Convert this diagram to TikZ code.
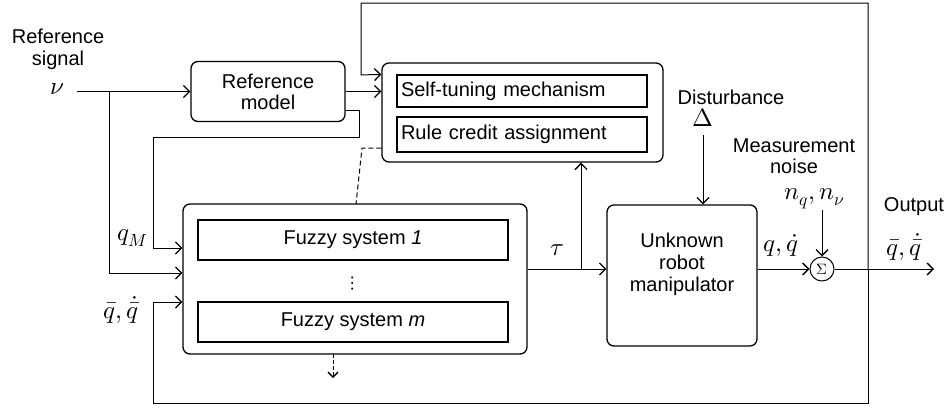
\documentclass[tikz,border=0pt]{standalone}
\usepackage{fontspec}
\usepackage{unicode-math}
\setmainfont{Liberation Sans}
\setmathfont{Latin Modern Math}
\usetikzlibrary{arrows.meta,calc}
\begin{document}
\begin{tikzpicture}[x=1pt,y=-1pt,
  every node/.style={font=\fontsize{20}{23}\selectfont, inner sep=0pt},
  bigbox/.style={draw, line width=1.3pt, rounded corners=7pt},
  inbox/.style={draw, line width=1.3pt},
  conn/.style={line width=1pt, -{Straight Barb[length=6pt,width=12pt,line width=1.3pt]}},
  plain/.style={line width=1pt},
  lbl/.style={font=\fontsize{25}{27}\selectfont}
]
\useasboundingbox (0,0) rectangle (950,408);

% blocks
\node[bigbox, minimum width=154pt, minimum height=60pt, align=center] (refm) at (268,91.5) {Reference\\[-2pt]model};
\node[bigbox, minimum width=281pt, minimum height=99pt] (stout) at (522.5,112.5) {};
\node[inbox, minimum width=250pt, minimum height=32pt, text width=242pt, align=left] (st1) at (522,91) {Self-tuning mechanism};
\node[inbox, minimum width=250pt, minimum height=35pt, text width=242pt, align=left] (st2) at (522,134.5) {Rule credit assignment};
\node[bigbox, minimum width=344pt, minimum height=150pt] (fzout) at (355,279) {};
\node[inbox, minimum width=310pt, minimum height=40pt] (fz1) at (353,240) {Fuzzy system \textit{1}};
\node[inbox, minimum width=310pt, minimum height=40pt] (fzm) at (353,322) {Fuzzy system \textit{m}};
\node (dots) at (353,283) {$\vdots$};
\node[bigbox, minimum width=150pt, minimum height=141pt, align=center] (robot) at (682,275.5) {Unknown\\[-1pt]robot\\[-1pt]manipulator\\[4pt]};
\node[draw, circle, line width=1pt, minimum size=24pt, font=\fontsize{15}{16}\selectfont] (sigma) at (822,269) {$\Sigma$};

% labels
\node[align=center] (refsig) at (58,49) {Reference\\[-1pt]signal};
\node[lbl] (nu) at (57,89) {$\nu$};
\node (dist) at (731,97) {Disturbance};
\node[lbl] (delta) at (703,118) {$\Delta$};
\node[align=center] (meas) at (794,156) {Measurement\\[-2pt]noise};
\node[lbl] (noise) at (815,199) {$n_q,n_\nu$};
\node (outlbl) at (914,207) {Output};
\node[lbl] (qout) at (904,247) {$\bar q,\dot{\bar q}$};
\node[lbl] (qrob) at (781,245) {$q,\dot q$};
\node[lbl] (tau) at (557,250) {$\tau$};
\node[lbl] (qm) at (133,238) {$q_M$};
\node[lbl] (qfb) at (121,310) {$\bar q,\dot{\bar q}$};

% coordinates
\coordinate (vin) at (77,91.5);
\coordinate (j1) at (109,91.5);
\coordinate (jo) at (868,269);
\coordinate (jt) at (581,269);
\coordinate (out) at (934,269);

% connectors
\draw[conn] (vin) -- (refm.west);
\draw[plain] (j1) |- ($(fzout.west)+(0,-6)$);
\draw[conn] ($(j1 |- fzout.west)+(0,-6)$) -- ($(fzout.west)+(0,-6)$);
\draw[conn] (refm.east) -- (refm.east -| stout.west);
\draw[conn] ($(refm.east)+(0,18.5)$) -| (359,137) -| (153,248) -- ($(fzout.west)+(0,-31)$);
\draw[conn] (jo) -- (868,3) -| (361,75) -- (stout.west |- st1.north);
\draw[conn] (jo) -- (868,403) -| (153,302) -- ($(fzout.west)+(0,23)$);
\draw[conn] (sigma.east) -- (out);
\draw[conn] (robot.east |- sigma) -- (sigma.west);
\draw[conn] (noise.south -| sigma) -- (sigma.north);
\draw[conn] (delta.south) ++(0,8) -- (robot.north -| delta);
\draw[conn] (fzout.east |- sigma) -- (robot.west |- sigma);
\draw[conn] (jt) -- (stout.south -| jt);
\draw[plain, dashed, dash pattern=on 5pt off 3pt] (stout.west |- 0,148) -- (362,148) -- (356,204);
\draw[line width=1pt, dashed, dash pattern=on 4pt off 2pt, -{Straight Barb[length=5pt,width=10pt,line width=1.3pt]}] (333,354) -- (333,378);
\end{tikzpicture}
\end{document}
